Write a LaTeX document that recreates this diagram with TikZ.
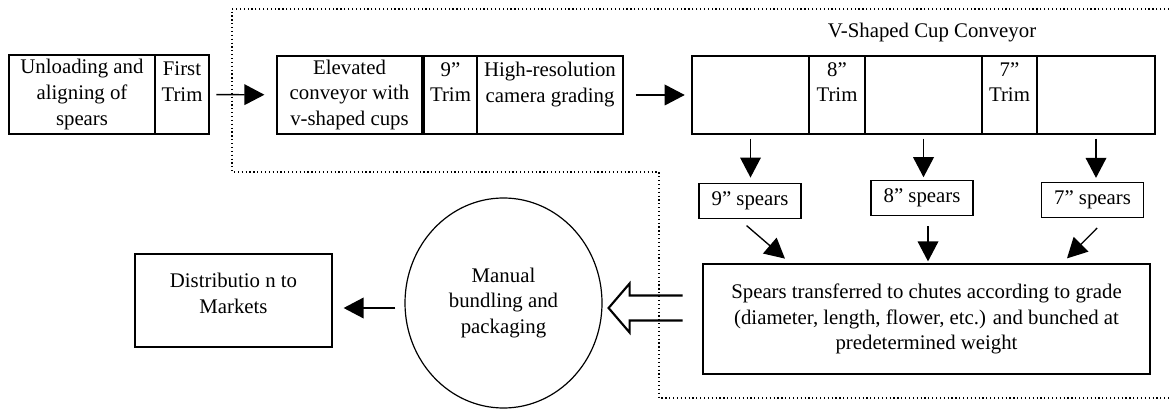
\documentclass[tikz,border=0pt]{standalone}
\usepackage{fontspec}
\setmainfont{Liberation Serif}
\usetikzlibrary{arrows.meta,shapes.geometric,calc}

\begin{document}
\begin{tikzpicture}[x=0.75pt, y=-0.75pt,
    font=\fontsize{15.6pt}{19.3pt}\selectfont,
    box/.style={draw, line width=0.9pt, align=center, inner sep=0.5pt, minimum height=58.5pt},
    spearbox/.style={draw, line width=0.9pt, inner sep=1pt, minimum width=76.5pt, minimum height=26.25pt},
    arr/.style={-{Triangle[length=15pt,width=15.5pt]}, line width=1pt},
    hollow/.style={line width=1.6pt, line join=miter}]
\useasboundingbox (0,0) rectangle (1169,409);

% Dotted outline
\draw[dotted, line width=0.9pt] (1169,9) -- (232,9) -- (232,172) -- (659,172) -- (659,398) -- (1169,398);

% First stations
\node[box, minimum width=109.5pt, minimum height=59.25pt] (unload) at (82,94.5) {Unloading and\\aligning of\\spears};
\node[box, minimum width=40.5pt, minimum height=59.25pt] (trim1) at (182,94.5) {First\\Trim\\\mbox{}};

\node[box, minimum width=108.75pt] (elev) at (349.5,95) {Elevated\\conveyor with\\v-shaped cups};
\node[box, minimum width=39.75pt] (trim9) at (450.5,95) {9”\\Trim\\\mbox{}};
\node[box, minimum width=109.5pt] (camera) at (550,95) {High-resolution\\camera grading\\\mbox{}};

% V-shaped cup conveyor
\node (cuptitle) at (932,33) {V-Shaped Cup Conveyor};
\node[box, minimum width=87.75pt] (c1) at (750.5,95) {};
\node[box, minimum width=42pt] (trim8) at (837,95) {8”\\Trim\\\mbox{}};
\node[box, minimum width=87.75pt] (c2) at (923.5,95) {};
\node[box, minimum width=41.25pt] (trim7) at (1009.5,95) {7”\\Trim\\\mbox{}};
\node[box, minimum width=88.5pt] (c3) at (1096,95) {};

% Graded spears
\node[spearbox] (s9) at (750,201) {9” spears};
\node[spearbox] (s8) at (922,198) {8” spears};
\node[spearbox] (s7) at (1092.5,200) {7” spears};

\node[box, minimum width=335.25pt, minimum height=82.5pt] (chute) at (926.5,319)
    {Spears transferred to chutes according to grade\\(diameter, length, flower, etc.) and bunched at\\predetermined weight};

% Packing and markets
\node[ellipse, draw, line width=0.9pt, align=center, inner sep=0pt,
      minimum width=147.75pt, minimum height=157.5pt] (manual) at (503.5,303) {Manual\\bundling and\\packaging};
\node[box, minimum width=147.75pt, minimum height=69.75pt] (dist) at (233.5,300.5) {Distributio n to\\Markets\\[-8pt]\mbox{}};

% Arrows
\draw[arr, shorten <=5pt, shorten >=9pt] (trim1) -- (elev);
\draw[arr, shorten <=9pt, shorten >=5pt] (camera) -- (c1);

\draw[arr, shorten <=3pt, shorten >=4pt] (c1.south) -- (c1.south |- s9.north);
\draw[arr, shorten <=3pt, shorten >=2pt] (c2.south) -- (c2.south |- s8.north);
\draw[arr, shorten <=3pt, shorten >=3pt] (c3.south) -- (c3.south |- s7.north);

\coordinate (a9) at ($(s9.south)+(-11,0)$);
\coordinate (b9) at ($(chute.north)+(-136,0)$);
\coordinate (a8) at ($(s8.south)+(6,0)$);
\coordinate (a7) at ($(s7.south)+(14.5,0)$);
\coordinate (b7) at ($(chute.north)+(135.5,0)$);
\draw[arr, shorten <=7.5pt, shorten >=5.5pt] (a9) -- (b9);
\draw[arr, shorten <=7.5pt, shorten >=1.5pt] (a8) -- (a8 |- chute.north);
\draw[arr, shorten <=10.5pt, shorten >=5.3pt] (a7) -- (b7);

\coordinate (m1) at ($(manual.west)+(0,5)$);
\draw[arr, shorten <=6.75pt, shorten >=8.25pt] (m1) -- (m1 -| dist.east);

% Hollow arrow into the circle
\coordinate (htip) at ($(manual.east)+(6,5)$);
\draw[hollow] ($(htip)+(74,-12.5)$) -- ++(-53,0) -- ++(0,-12) -- (htip) -- ++(21,24.5) -- ++(0,-12) -- ++(53,0);
\end{tikzpicture}
\end{document}
